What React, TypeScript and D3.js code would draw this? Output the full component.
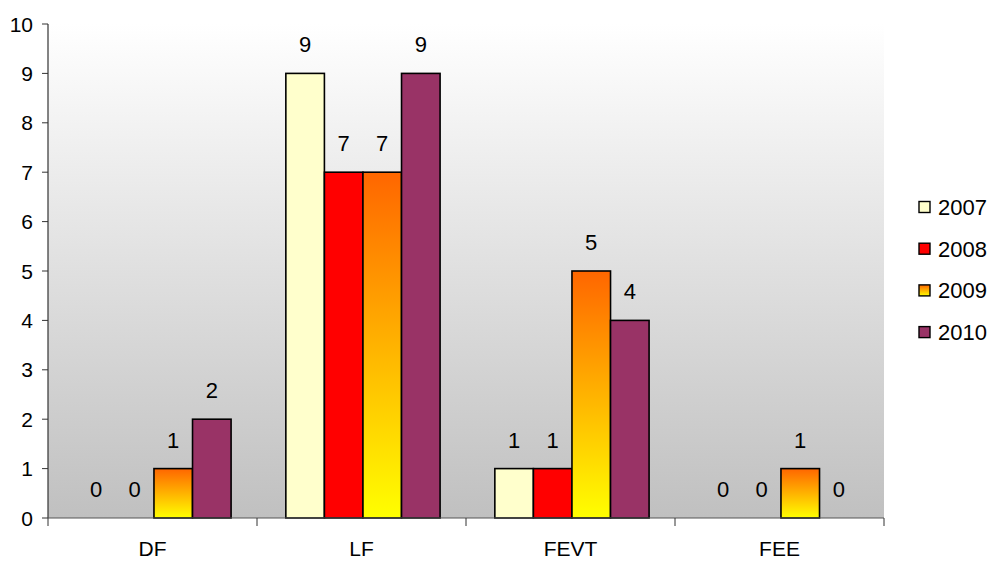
import React from "react";
import * as d3 from "d3";

const categories = ["DF", "LF", "FEVT", "FEE"];
const seriesNames = ["2007", "2008", "2009", "2010"];
const values2007 = [0, 9, 1, 0];
const values2008 = [0, 7, 1, 0];
const values2009 = [1, 7, 5, 1];
const values2010 = [2, 9, 4, 0];
const yTicks = [0, 1, 2, 3, 4, 5, 6, 7, 8, 9, 10];

const seriesValues = [values2007, values2008, values2009, values2010];
const fills = ["#FFFFCC", "#FF0000", "url(#grad2009)", "#993366"];

const W = 994;
const H = 562;
const left = 48;
const right = 884;
const top = 24;
const bottom = 518;
const font = "Arial, 'Liberation Sans', sans-serif";

export default function App() {
  const x0 = d3.scaleBand<string>().domain(categories).range([left, right]).paddingInner(0).paddingOuter(0);
  const bwTot = x0.bandwidth();
  const x1 = d3
    .scaleBand<string>()
    .domain(seriesNames)
    .range([bwTot * 0.138, bwTot * 0.876])
    .padding(0);
  const y = d3.scaleLinear().domain([0, 10]).range([bottom, top]);

  const catTicks = categories.map((c) => x0(c) as number).concat([right]);

  return (
    <svg width={W} height={H} style={{ position: "absolute", left: 0, top: 0 }}>
      <defs>
        <linearGradient id="bg" x1="0" y1="0" x2="0" y2="1">
          <stop offset="0%" stopColor="#ffffff" />
          <stop offset="100%" stopColor="#c0c0c0" />
        </linearGradient>
        <linearGradient id="grad2009" x1="0" y1="0" x2="0" y2="1">
          <stop offset="0%" stopColor="#FF6600" />
          <stop offset="100%" stopColor="#FFFF00" />
        </linearGradient>
      </defs>
      <rect x={0} y={0} width={W} height={H} fill="#ffffff" />
      <rect x={left} y={top} width={right - left} height={bottom - top} fill="url(#bg)" />

      {categories.map((c, ci) =>
        seriesNames.map((s, si) => {
          const v = seriesValues[si][ci];
          const bx = (x0(c) as number) + (x1(s) as number);
          const bw = x1.bandwidth();
          const by = y(v);
          return (
            <g key={c + s}>
              {v > 0 && (
                <rect
                  x={bx}
                  y={by}
                  width={bw}
                  height={bottom - by}
                  fill={fills[si]}
                  stroke="#000"
                  strokeWidth={1.6}
                />
              )}
              <text
                x={bx + bw / 2}
                y={by - 21}
                textAnchor="middle"
                fontFamily={font}
                fontSize={22}
                fill="#000"
              >
                {v}
              </text>
            </g>
          );
        })
      )}

      {/* axes */}
      <line x1={left} y1={top} x2={left} y2={bottom} stroke="#333" strokeWidth={1.2} />
      <line x1={left} y1={bottom} x2={right} y2={bottom} stroke="#555" strokeWidth={1.2} />
      {yTicks.map((t) => (
        <g key={t}>
          <line x1={left - 6} x2={left} y1={y(t)} y2={y(t)} stroke="#333" strokeWidth={1} />
          <text
            x={33}
            y={y(t)}
            dy="0.36em"
            textAnchor="end"
            fontFamily={font}
            fontSize={21}
            fill="#000"
          >
            {t}
          </text>
        </g>
      ))}
      {catTicks.map((tx, i) => (
        <line key={i} x1={tx} x2={tx} y1={bottom} y2={bottom + 8} stroke="#333" strokeWidth={1} />
      ))}
      {categories.map((c) => (
        <text
          key={c}
          x={(x0(c) as number) + x0.bandwidth() / 2}
          y={556}
          textAnchor="middle"
          fontFamily={font}
          fontSize={21}
          fill="#000"
        >
          {c}
        </text>
      ))}

      {/* legend */}
      {seriesNames.map((s, i) => {
        const ly = 207 + i * 41.7;
        return (
          <g key={s}>
            <rect x={919} y={ly - 5.5} width={11} height={11} fill={fills[i]} stroke="#000" strokeWidth={1.4} />
            <text x={938} y={ly} dy="0.36em" fontFamily={font} fontSize={22} fill="#000">
              {s}
            </text>
          </g>
        );
      })}
    </svg>
  );
}
